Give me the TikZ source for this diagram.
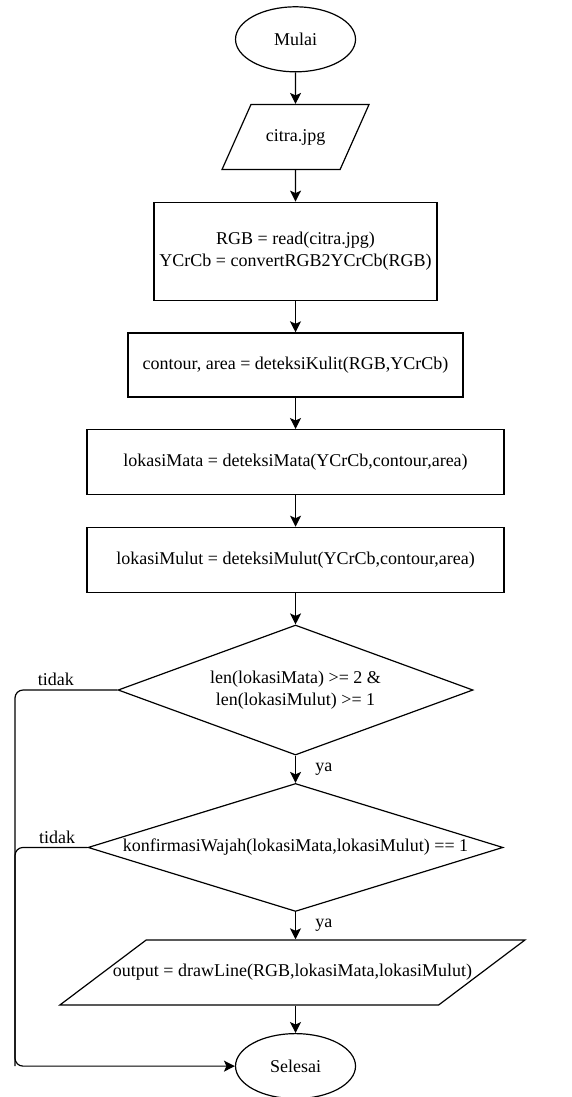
\documentclass[tikz,border=0pt]{standalone}
\usepackage{fontspec}
\setmainfont{Liberation Serif}
\usetikzlibrary{matrix,arrows.meta,shapes.geometric}

\begin{document}
\begin{tikzpicture}[x=1pt,y=1pt,
	font=\fontsize{18}{22}\selectfont,
	base/.style={draw, line width=1.2pt, inner sep=0pt, align=center},
	term/.style={base, ellipse, minimum width=120pt, minimum height=65pt},
	io/.style={base, trapezium, trapezium stretches body=true, text height=12.5pt, text depth=4pt, inner ysep=24.25pt},
	proc/.style={base, rectangle, minimum height=65pt},
	decision/.style={base, diamond},
	flow/.style={line width=1.2pt, -{Stealth[length=11pt,width=11pt,inset=2.5pt]}}]
\useasboundingbox (0,0) rectangle (571,-1097);
\matrix (m) [row sep=31.5pt, inner sep=0pt, anchor=north] at (292.5,-6)
{
	\node[term] (mulai) {Mulai}; \\
	\node[io, trapezium left angle=66, trapezium right angle=114, minimum width=147pt] (citra) {citra.jpg}; \\
	\node[proc, minimum width=283pt, minimum height=98pt] (baca) {RGB = read(citra.jpg)\\YCrCb = convertRGB2YCrCb(RGB)}; \\
	\node[proc, minimum width=335pt, minimum height=64pt] (kulit) {contour, area = deteksiKulit(RGB,YCrCb)}; \\
	\node[proc, minimum width=417pt] (mata) {lokasiMata = deteksiMata(YCrCb,contour,area)}; \\
	\node[proc, minimum width=417pt] (mulut) {lokasiMulut = deteksiMulut(YCrCb,contour,area)}; \\
	\node[decision, aspect=2.73, minimum width=355pt, minimum height=130pt] (cek) {len(lokasiMata) >= 2 \&\\len(lokasiMulut) >= 1}; \\[-4pt]
	\node[decision, aspect=3.24, minimum width=415pt, minimum height=128pt] (konfirmasi) {konfirmasiWajah(lokasiMata,lokasiMulut) == 1}; \\[-4pt]
	\node[io, trapezium left angle=37, trapezium right angle=143, minimum width=465pt, xshift=-3pt] (output) {\makebox[290pt]{output = drawLine(RGB,lokasiMata,lokasiMulut)}}; \\[-4pt]
	\node[term] (selesai) {Selesai}; \\
};
\coordinate (rail) at (15,0);
\draw[flow] (mulai) -- (citra);
\draw[flow] (citra) -- (baca);
\draw[flow] (baca) -- (kulit);
\draw[flow] (kulit) -- (mata);
\draw[flow] (mata) -- (mulut);
\draw[flow] (mulut) -- (cek);
\draw[flow] (cek) -- node[right=16pt] (ya1) {ya} (konfirmasi);
\draw[flow] (konfirmasi) -- node[right=16pt] (ya2) {ya} (output.north -| konfirmasi.south);
\draw[flow] (output.south -| selesai.north) -- (selesai.north);
\draw[flow, rounded corners=8pt] (cek.west) -- node[above, pos=.6] (tidak1) {tidak} (rail |- cek.west) -- (rail |- selesai.west) -- (selesai.west);
\draw[line width=1.2pt, rounded corners=8pt] (konfirmasi.west) -- node[above, pos=.42] (tidak2) {tidak} (rail |- konfirmasi.west) -- (rail |- selesai.west);
\end{tikzpicture}
\end{document}
